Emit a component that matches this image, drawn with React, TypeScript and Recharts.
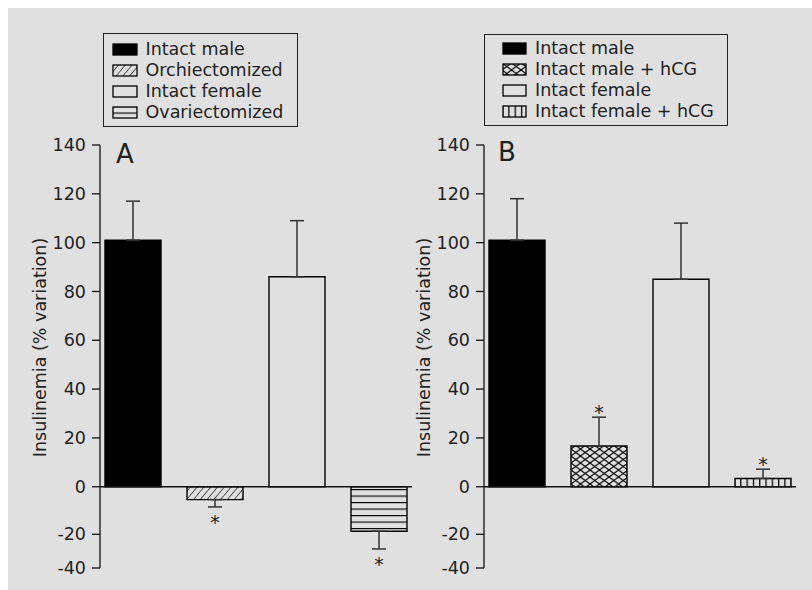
import React from 'react';
import { ComposedChart, Bar, Cell, XAxis, YAxis, ErrorBar, Line, ReferenceLine } from 'recharts';

// ---------- data ----------
const categoriesA = ['Intact male', 'Orchiectomized', 'Intact female', 'Ovariectomized'];
const meansA = [101, -5.4, 86, -18.7];
const errorsA = [16, 3.1, 23, 10];
const significantA = [false, true, false, true];

const categoriesB = ['Intact male', 'Intact male + hCG', 'Intact female', 'Intact female + hCG'];
const meansB = [101, 16.7, 85, 3.4];
const errorsB = [17, 11.8, 23, 3.8];
const significantB = [false, true, false, true];

const yTicks = [-40, -20, 0, 20, 40, 60, 80, 100, 120, 140];
const yDomain = [-40, 140];

// ---------- page ----------
if (typeof document !== 'undefined') {
  document.body.style.margin = '8px 0 0 8px';
  document.body.style.overflow = 'hidden';
  document.documentElement.style.overflow = 'hidden';
}

// ---------- styles ----------
const FONT = '"DejaVu Sans", "Liberation Sans", Arial, sans-serif';
const FS = 17.5;
const fillsA = ['#000', 'url(#patHatch)', 'none', 'url(#patHLines)'];
const fillsB = ['#000', 'url(#patCross)', 'none', 'url(#patVLines)'];

// The printed axis is not evenly spaced below zero; piecewise-linear axis scale.
const AXIS_BREAKS = [-40, -20, 0, 140];
const AXIS_FRACS = [0, 0.0797, 0.1921, 1];

function piecewiseScale(): any {
  let dom: number[] = [yDomain[0], yDomain[1]];
  let rng: number[] = [0, 1];
  const frac = (v: number) => {
    const n = AXIS_BREAKS.length;
    let i = 0;
    while (i < n - 2 && v > AXIS_BREAKS[i + 1]) i++;
    const t = (v - AXIS_BREAKS[i]) / (AXIS_BREAKS[i + 1] - AXIS_BREAKS[i]);
    return AXIS_FRACS[i] + t * (AXIS_FRACS[i + 1] - AXIS_FRACS[i]);
  };
  const s: any = (v: any) => rng[0] + frac(Number(v)) * (rng[1] - rng[0]);
  s.domain = (d?: any) => {
    if (d === undefined) return dom.slice();
    dom = d.map(Number);
    return s;
  };
  s.range = (r?: any) => {
    if (r === undefined) return rng.slice();
    rng = r.map(Number);
    return s;
  };
  s.copy = () => piecewiseScale().domain(dom).range(rng);
  s.ticks = () => yTicks.slice();
  s.tickFormat = () => (v: any) => String(v);
  s.nice = () => s;
  s.clamp = () => s;
  s.invert = (px: number) => {
    const f = (px - rng[0]) / (rng[1] - rng[0]);
    let i = 0;
    while (i < AXIS_FRACS.length - 2 && f > AXIS_FRACS[i + 1]) i++;
    const t = (f - AXIS_FRACS[i]) / (AXIS_FRACS[i + 1] - AXIS_FRACS[i]);
    return AXIS_BREAKS[i] + t * (AXIS_BREAKS[i + 1] - AXIS_BREAKS[i]);
  };
  return s;
}

function buildRows(cats: string[], means: number[], errs: number[], sig: boolean[]) {
  return cats.map((c, i) => ({
    name: c,
    value: means[i],
    err: means[i] >= 0 ? [0, errs[i]] : [errs[i], 0],
    star: sig[i] ? means[i] + Math.sign(means[i]) * errs[i] : null,
  }));
}

const rowsA = buildRows(categoriesA, meansA, errorsA, significantA);
const rowsB = buildRows(categoriesB, meansB, errorsB, significantB);

const YLabel = (props: any) => {
  const vb = props.viewBox || { x: 0, y: 0, width: 0, height: 0 };
  const cx = vb.x;
  const cy = vb.y + vb.height / 2 - 9;
  return (
    <text
      x={cx}
      y={cy}
      transform={`rotate(-90 ${cx} ${cy})`}
      textAnchor="middle"
      dominantBaseline="central"
      fontSize={FS}
      fill="#222"
      fontFamily={FONT}
    >
      Insulinemia (% variation)
    </text>
  );
};

const StarDot = (props: any) => {
  const { cx, cy, payload, index } = props;
  if (!payload || payload.star == null || cx == null || cy == null || isNaN(cy)) {
    return <g key={`s${index}`} />;
  }
  const down = payload.value < 0;
  const c = cy + (down ? 11 : -10);
  return (
    <text key={`s${index}`} x={cx} y={c + 11.5} textAnchor="middle" fontSize={19} fill="#222" fontFamily={FONT}>
      *
    </text>
  );
};

function Panel({ rows, fills, left, marginLeft, marginRight }: any) {
  return (
    <div style={{ position: 'absolute', left, top: 0 }}>
      <ComposedChart
        width={412}
        height={582}
        data={rows}
        margin={{ top: 137, right: marginRight, bottom: 22, left: marginLeft }}
      >
        <XAxis dataKey="name" type="category" hide padding={{ left: -8, right: -8 }} />
        <YAxis
          type="number"
          domain={yDomain}
          ticks={yTicks}
          scale={piecewiseScale()}
          interval={0}
          width={60}
          tickSize={8}
          tickMargin={6}
          axisLine={{ stroke: '#111', strokeWidth: 1.3 }}
          tickLine={{ stroke: '#111', strokeWidth: 1.3 }}
          tick={{ fontSize: FS, fill: '#222', fontFamily: FONT }}
          label={<YLabel />}
        />
        <Bar dataKey="value" barSize={56} isAnimationActive={false} legendType="none">
          {rows.map((r: any, i: number) => (
            <Cell key={i} fill={fills[i]} stroke="#000" strokeWidth={1.4} />
          ))}
          <ErrorBar dataKey="err" width={7} stroke="#333" strokeWidth={1.5} direction="y" />
        </Bar>
        <ReferenceLine y={0} stroke="#111" strokeWidth={1.5} />
        <Line
          dataKey="star"
          stroke="none"
          isAnimationActive={false}
          dot={<StarDot />}
          activeDot={false}
          legendType="none"
          connectNulls={false}
        />
      </ComposedChart>
    </div>
  );
}

function LegendBox({ items, fills, left, top, width, height, swatchLeft, rowTop, swatchW }: any) {
  return (
    <div
      style={{
        position: 'absolute',
        left,
        top,
        width,
        height,
        border: '1.5px solid #222',
        boxSizing: 'border-box',
      }}
    >
      {items.map((t: string, i: number) => (
        <div
          key={i}
          style={{
            position: 'absolute',
            left: swatchLeft,
            top: rowTop + i * 21,
            height: 21,
            display: 'flex',
            alignItems: 'center',
            whiteSpace: 'nowrap',
          }}
        >
          <svg width={swatchW + 2} height={13} style={{ display: 'block' }}>
            <rect x={1} y={1} width={swatchW} height={11} fill={fills[i]} stroke="#000" strokeWidth={1.3} />
          </svg>
          <span style={{ marginLeft: 8, fontSize: FS, lineHeight: '21px', color: '#222', fontFamily: FONT }}>{t}</span>
        </div>
      ))}
    </div>
  );
}

export default function App() {
  return (
    <div
      style={{
        position: 'relative',
        width: 820,
        height: 600,
        background: '#e0e0e0',
        fontFamily: FONT,
        overflow: 'hidden',
      }}
    >
      <svg width={804} height={582} style={{ position: 'absolute', left: 0, top: 0 }}>
        <defs>
          <pattern id="patHatch" width="5.2" height="5.2" patternUnits="userSpaceOnUse" patternTransform="rotate(40)">
            <line x1="0" y1="-1" x2="0" y2="7" stroke="#000" strokeWidth="1.2" />
          </pattern>
          <pattern id="patHLines" width="10" height="6.5" patternUnits="userSpaceOnUse">
            <line x1="-1" y1="0.5" x2="11" y2="0.5" stroke="#000" strokeWidth="1.3" />
          </pattern>
          <pattern id="patVLines" width="6.3" height="10" patternUnits="userSpaceOnUse">
            <line x1="0.6" y1="-1" x2="0.6" y2="11" stroke="#000" strokeWidth="1.3" />
          </pattern>
          <pattern id="patCross" width="9.5" height="7" patternUnits="userSpaceOnUse">
            <line x1="0" y1="0" x2="9.5" y2="7" stroke="#000" strokeWidth="1.1" />
            <line x1="0" y1="7" x2="9.5" y2="0" stroke="#000" strokeWidth="1.1" />
          </pattern>
        </defs>
        <text x={108} y={154.7} fontSize={26} fill="#222" fontFamily={FONT}>A</text>
        <text x={490} y={153} fontSize={26} fill="#222" fontFamily={FONT}>B</text>
      </svg>

      <Panel rows={rowsA} fills={fillsA} left={0} marginLeft={32} marginRight={8} />
      <Panel rows={rowsB} fills={fillsB} left={392} marginLeft={24} marginRight={16} />

      <LegendBox
        items={categoriesA}
        fills={fillsA}
        left={95}
        top={25}
        width={195}
        height={94}
        swatchLeft={7.5}
        rowTop={5}
        swatchW={24}
      />
      <LegendBox
        items={categoriesB}
        fills={fillsB}
        left={476}
        top={26}
        width={244}
        height={92}
        swatchLeft={17}
        rowTop={3}
        swatchW={23}
      />
    </div>
  );
}
